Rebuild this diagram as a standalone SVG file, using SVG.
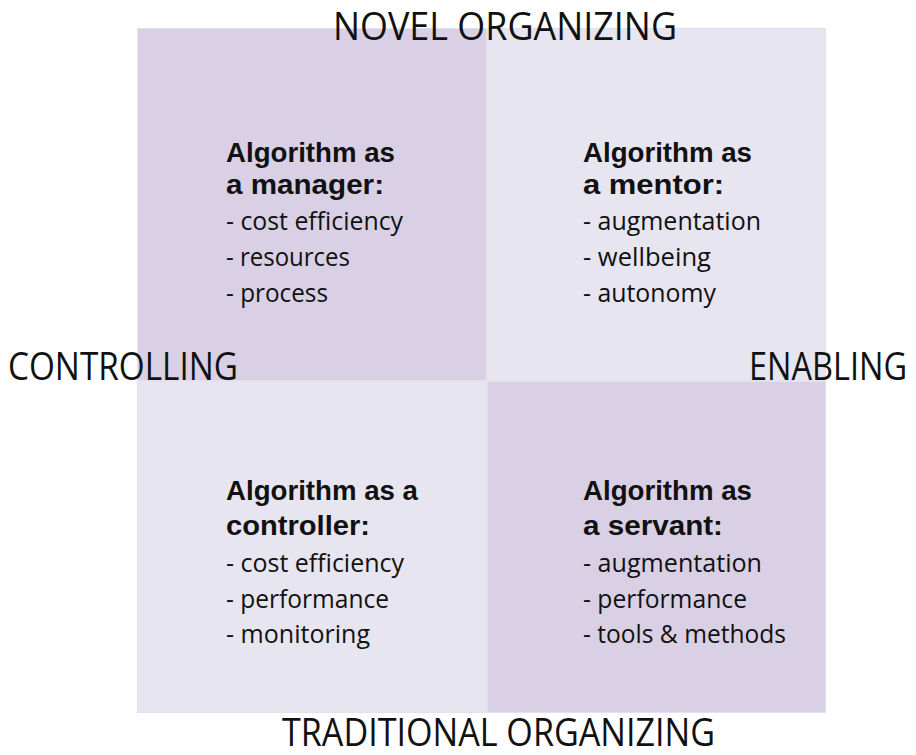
<svg xmlns="http://www.w3.org/2000/svg" width="916" height="755" viewBox="0 0 916 755">
<style>
.dark{fill:#d9d0e5}
.light{fill:#e6e5f0}
.axis{font-family:"Open Sans","Liberation Sans",sans-serif;font-size:38px;fill:#111}
.head{font-family:"Liberation Sans",Arial,sans-serif;font-weight:bold;font-size:27px;fill:#111}
.item{font-family:"Open Sans","Liberation Sans",sans-serif;font-size:26px;fill:#111}
</style>
<rect x="0" y="0" width="916" height="755" fill="#ffffff"/>
<rect x="137" y="28" width="689" height="685" fill="#e4e1ee"/>
<g id="q-manager">
<rect class="dark" x="138" y="29" width="348" height="351"/>
<text class="head" x="226" y="162" textLength="169" lengthAdjust="spacingAndGlyphs">Algorithm as</text>
<text class="head" x="226" y="194" textLength="158" lengthAdjust="spacingAndGlyphs">a manager:</text>
<text class="item" x="226" y="230" textLength="177" lengthAdjust="spacingAndGlyphs">- cost efficiency</text>
<text class="item" x="226" y="266" textLength="124" lengthAdjust="spacingAndGlyphs">- resources</text>
<text class="item" x="226" y="302" textLength="102" lengthAdjust="spacingAndGlyphs">- process</text>
</g>
<g id="q-mentor">
<rect class="light" x="488" y="29" width="337" height="351"/>
<text class="head" x="583" y="162" textLength="169" lengthAdjust="spacingAndGlyphs">Algorithm as</text>
<text class="head" x="583" y="194" textLength="141" lengthAdjust="spacingAndGlyphs">a mentor:</text>
<text class="item" x="583" y="230" textLength="178" lengthAdjust="spacingAndGlyphs">- augmentation</text>
<text class="item" x="583" y="266" textLength="128" lengthAdjust="spacingAndGlyphs">- wellbeing</text>
<text class="item" x="583" y="302" textLength="133" lengthAdjust="spacingAndGlyphs">- autonomy</text>
</g>
<g id="q-controller">
<rect class="light" x="138" y="382" width="348" height="330"/>
<text class="head" x="226" y="500" textLength="192" lengthAdjust="spacingAndGlyphs">Algorithm as a</text>
<text class="head" x="226" y="535" textLength="144" lengthAdjust="spacingAndGlyphs">controller:</text>
<text class="item" x="226" y="572" textLength="178" lengthAdjust="spacingAndGlyphs">- cost efficiency</text>
<text class="item" x="226" y="608" textLength="163" lengthAdjust="spacingAndGlyphs">- performance</text>
<text class="item" x="226" y="643" textLength="144" lengthAdjust="spacingAndGlyphs">- monitoring</text>
</g>
<g id="q-servant">
<rect class="dark" x="488" y="382" width="337" height="330"/>
<text class="head" x="583" y="500" textLength="169" lengthAdjust="spacingAndGlyphs">Algorithm as</text>
<text class="head" x="583" y="535" textLength="140" lengthAdjust="spacingAndGlyphs">a servant:</text>
<text class="item" x="583" y="572" textLength="179" lengthAdjust="spacingAndGlyphs">- augmentation</text>
<text class="item" x="583" y="608" textLength="164" lengthAdjust="spacingAndGlyphs">- performance</text>
<text class="item" x="583" y="643" textLength="203" lengthAdjust="spacingAndGlyphs">- tools &amp; methods</text>
</g>
<g id="axis-labels">
<text class="axis" x="333" y="40" textLength="344" lengthAdjust="spacingAndGlyphs">NOVEL ORGANIZING</text>
<text class="axis" x="282" y="746" textLength="433" lengthAdjust="spacingAndGlyphs">TRADITIONAL ORGANIZING</text>
<text class="axis" x="8" y="380" textLength="230" lengthAdjust="spacingAndGlyphs">CONTROLLING</text>
<text class="axis" x="749" y="380" textLength="158" lengthAdjust="spacingAndGlyphs">ENABLING</text>
</g>
<g id="connectors"></g>
</svg>
